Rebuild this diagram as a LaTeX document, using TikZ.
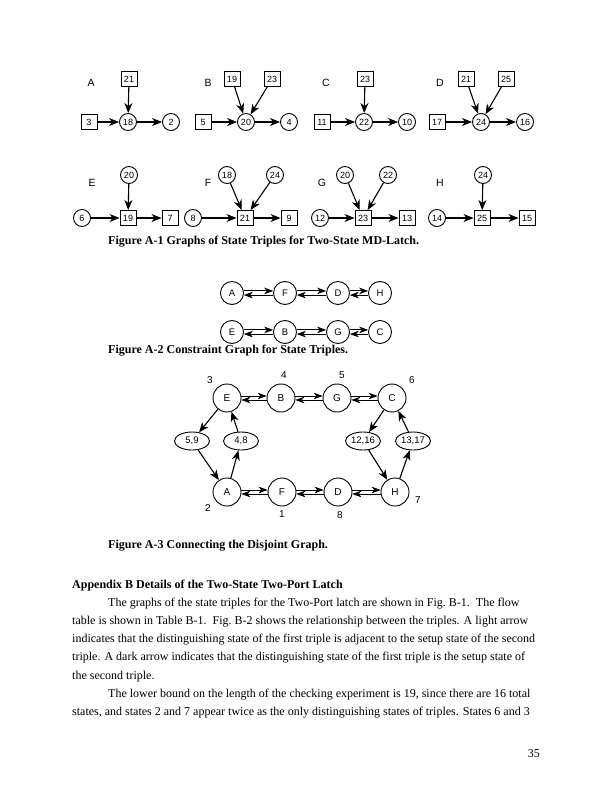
\documentclass[tikz,border=0pt]{standalone}
\usepackage{fontspec}
\setmainfont{Liberation Serif}
\newfontfamily\hel{Liberation Sans}
\usetikzlibrary{arrows.meta,shapes.geometric}
\begin{document}
\begin{tikzpicture}[x=1pt,y=-1pt,
  boxn/.style={draw,line width=0.9pt,minimum width=16pt,minimum height=15pt,inner sep=0pt,font=\hel\fontsize{9}{10}\selectfont},
  circn/.style={draw,circle,line width=0.9pt,minimum size=17pt,inner sep=0pt,font=\hel\fontsize{9}{10}\selectfont},
  bigc/.style={draw,circle,line width=0.9pt,minimum size=23pt,inner sep=0pt,font=\hel\fontsize{9.5}{10}\selectfont},
  hugec/.style={draw,circle,line width=0.9pt,minimum size=28pt,inner sep=0pt,font=\hel\fontsize{10}{11}\selectfont},
  ellin/.style={draw,ellipse,line width=0.9pt,minimum width=35pt,minimum height=18pt,inner sep=0pt,font=\hel\fontsize{9.5}{10}\selectfont},
  arr/.style={line width=1.1pt,-{Stealth[length=10pt,width=8pt,inset=3pt]}},
  darr/.style={line width=0.9pt,-{Stealth[length=9pt,width=6.5pt,inset=2.5pt]}},
  letter/.style={font=\hel\fontsize{10.5}{12}\selectfont,inner sep=0pt},
  numl/.style={font=\hel\fontsize{10}{12}\selectfont,inner sep=0pt},
  capt/.style={anchor=base west,inner sep=0pt,font=\bfseries\fontsize{12}{14}\selectfont},
  body/.style={anchor=base west,inner sep=0pt,font=\fontsize{12}{14}\selectfont}]
\useasboundingbox[fill=white] (0,0) rectangle (612,791);

% ---------- Figure A-1, row 1 ----------
\node[letter] (lA) at (91,83) {A};
\node[boxn] (a21) at (129,79) {21};
\node[boxn] (a3) at (89,122) {3};
\node[circn] (a18) at (128,122) {18};
\node[circn] (a2) at (171,122) {2};
\draw[arr] (a21) -- (a18);
\draw[arr] (a3) -- (a18);
\draw[arr] (a18) -- (a2);

\node[letter] (lB) at (208,83) {B};
\node[boxn] (b19) at (232,79) {19};
\node[boxn] (b23) at (272,79) {23};
\node[boxn] (b5) at (203,122) {5};
\node[circn] (b20) at (246,122) {20};
\node[circn] (b4) at (289,122) {4};
\draw[arr] (b19) -- (b20);
\draw[arr] (b23) -- (b20);
\draw[arr] (b5) -- (b20);
\draw[arr] (b20) -- (b4);

\node[letter] (lC) at (326,83) {C};
\node[boxn] (c23) at (365,79) {23};
\node[boxn] (c11) at (322,122) {11};
\node[circn] (c22) at (364,122) {22};
\node[circn] (c10) at (407,122) {10};
\draw[arr] (c23) -- (c22);
\draw[arr] (c11) -- (c22);
\draw[arr] (c22) -- (c10);

\node[letter] (lD) at (440,83) {D};
\node[boxn] (d21) at (466,79) {21};
\node[boxn] (d25) at (506,79) {25};
\node[boxn] (d17) at (437,122) {17};
\node[circn] (d24) at (481,122) {24};
\node[circn] (d16) at (525,122) {16};
\draw[arr] (d21) -- (d24);
\draw[arr] (d25) -- (d24);
\draw[arr] (d17) -- (d24);
\draw[arr] (d24) -- (d16);

% ---------- Figure A-1, row 2 ----------
\node[letter] (lE) at (92,183) {E};
\node[circn] (e20) at (129,175) {20};
\node[circn] (e6) at (82,218) {6};
\node[boxn] (e19) at (128,218) {19};
\node[boxn] (e7) at (170,218) {7};
\draw[arr] (e20) -- (e19);
\draw[arr] (e6) -- (e19);
\draw[arr] (e19) -- (e7);

\node[letter] (lF) at (208,183) {F};
\node[circn] (f18) at (227,175) {18};
\node[circn] (f24) at (275,175) {24};
\node[circn] (f8) at (193,218) {8};
\node[boxn] (f21) at (245,218) {21};
\node[boxn] (f9) at (289,218) {9};
\draw[arr] (f18) -- (f21);
\draw[arr] (f24) -- (f21);
\draw[arr] (f8) -- (f21);
\draw[arr] (f21) -- (f9);

\node[letter] (lG) at (322,183) {G};
\node[circn] (g20) at (345,175) {20};
\node[circn] (g22) at (388,175) {22};
\node[circn] (g12) at (320,218) {12};
\node[boxn] (g23) at (363,218) {23};
\node[boxn] (g13) at (407,218) {13};
\draw[arr] (g20) -- (g23);
\draw[arr] (g22) -- (g23);
\draw[arr] (g12) -- (g23);
\draw[arr] (g23) -- (g13);

\node[letter] (lH) at (440,183) {H};
\node[circn] (h24) at (483,175) {24};
\node[circn] (h14) at (437,218) {14};
\node[boxn] (h25) at (482,218) {25};
\node[boxn] (h15) at (527,218) {15};
\draw[arr] (h24) -- (h25);
\draw[arr] (h14) -- (h25);
\draw[arr] (h25) -- (h15);

\node[capt] (cap1) at (108,244) {Figure A-1 Graphs of State Triples for Two-State MD-Latch.};

% ---------- Figure A-2 ----------
\node[bigc] (pA) at (232,293) {A};
\node[bigc] (pF) at (285,293) {F};
\node[bigc] (pD) at (338,293) {D};
\node[bigc] (pH) at (380,293) {H};
\node[bigc] (pE) at (232,332) {E};
\node[bigc] (pB) at (285,332) {B};
\node[bigc] (pG) at (338,332) {G};
\node[bigc] (pC) at (380,332) {C};
\foreach \p/\q in {pA/pF,pF/pD,pD/pH,pE/pB,pB/pG,pG/pC}{
  \draw[darr] (\p.10) -- (\q.170);
  \draw[darr] (\q.190) -- (\p.350);
}
\node[capt] (cap2) at (108,353) {Figure A-2 Constraint Graph for State Triples.};

% ---------- Figure A-3 ----------
\node[hugec] (qE) at (227,398) {E};
\node[hugec] (qB) at (281,398) {B};
\node[hugec] (qG) at (337,398) {G};
\node[hugec] (qC) at (392,398) {C};
\node[hugec] (qA) at (227,492) {A};
\node[hugec] (qF) at (282,492) {F};
\node[hugec] (qD) at (338,492) {D};
\node[hugec] (qH) at (395,492) {H};
\node[ellin] (q59) at (192,441) {5,9};
\node[ellin] (q48) at (241,441) {4,8};
\node[ellin] (q1216) at (363,441) {12,16};
\node[ellin] (q1317) at (413,441) {13,17};
\foreach \p/\q in {qE/qB,qB/qG,qG/qC,qA/qF,qF/qD,qD/qH}{
  \draw[darr] (\p.8) -- (\q.172);
  \draw[darr] (\q.188) -- (\p.352);
}
\draw[arr] (qE) -- (q59);
\draw[arr] (q48) -- (qE);
\draw[arr] (q59) -- (qA);
\draw[arr] (qA) -- (q48);
\draw[arr] (qC) -- (q1216);
\draw[arr] (q1216) -- (qH);
\draw[arr] (qH) -- (q1317);
\draw[arr] (q1317) -- (qC);
\node[numl] (n3) at (210,380) {3};
\node[numl] (n4) at (284,375) {4};
\node[numl] (n5) at (342,375) {5};
\node[numl] (n6) at (412,380) {6};
\node[numl] (n2) at (208,508) {2};
\node[numl] (n1) at (282,514) {1};
\node[numl] (n8) at (340,515) {8};
\node[numl] (n7) at (418,500) {7};

\node[capt] (cap3) at (108,548) {Figure A-3 Connecting the Disjoint Graph.};

% ---------- Text ----------
\node[capt] (appb) at (72,588) {Appendix B Details of the Two-State Two-Port Latch};
\node[body] (t1) at (108,606) {The graphs of the state triples for the Two-Port latch are shown in Fig.\ B-1.\ \ The flow};
\node[body] (t2) at (72,624.3) {table is shown in Table B-1.\ \ Fig.\ B-2 shows the relationship between the triples.  A light arrow};
\node[body] (t3) at (72,642.6) {indicates that the distinguishing state of the first triple is adjacent to the setup state of the second};
\node[body] (t4) at (72,660.9) {triple.  A dark arrow indicates that the distinguishing state of the first triple is the setup state of};
\node[body] (t5) at (72,679.2) {the second triple.};
\node[body] (t6) at (108,697.5) {The lower bound on the length of the checking experiment is 19, since there are 16 total};
\node[body] (t7) at (72,715.8) {states, and states 2 and 7 appear twice as the only distinguishing states of triples.  States 6 and 3};
\node[anchor=base east,inner sep=0pt,font=\fontsize{12}{14}\selectfont] (pg) at (540,757) {35};
\end{tikzpicture}
\end{document}
